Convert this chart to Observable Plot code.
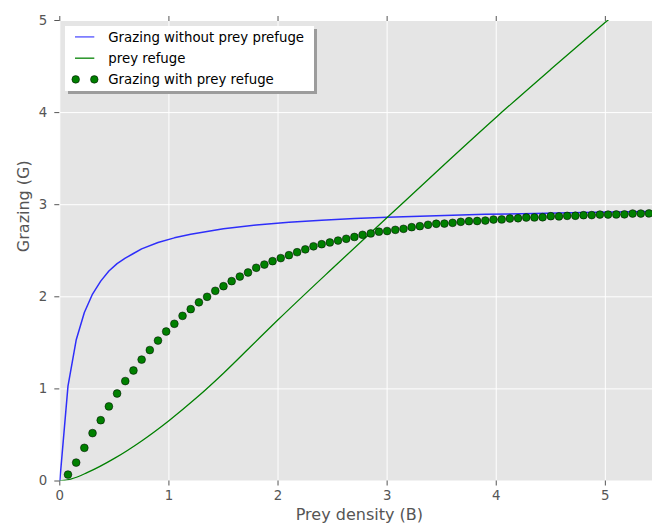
<!DOCTYPE html>
<html>
<head>
<meta charset="utf-8">
<script src="https://cdn.jsdelivr.net/npm/d3@7"></script>
<script src="https://cdn.jsdelivr.net/npm/@observablehq/plot@0.6"></script>
<style>
  html, body { margin: 0; padding: 0; background: #ffffff; overflow: hidden; }
  #wrap { position: relative; width: 652px; height: 529px; }
  #legend { position: absolute; left: 65px; top: 26px; width: 249px; height: 65px;
            background: #ffffff; box-shadow: 3px 3px 0 #9c9c9c; }
  #legend svg { display: block; }
</style>
</head>
<body>
<div id="wrap"></div>
<script>
// ---- data ----
const xTicks = [0, 1, 2, 3, 4, 5];
const yTicks = [0, 1, 2, 3, 4, 5];

const blueB = [0, 0.075, 0.15, 0.225, 0.3, 0.375, 0.45, 0.525, 0.6, 0.675, 0.75, 0.9, 1.05, 1.2, 1.35, 1.5, 1.8, 2.1, 2.4, 2.7, 3.0, 3.45, 3.9, 4.35, 4.8, 5.4];
const blueG = [0, 1.03, 1.53, 1.83, 2.03, 2.17, 2.28, 2.36, 2.42, 2.47, 2.52, 2.59, 2.64, 2.68, 2.71, 2.74, 2.78, 2.81, 2.83, 2.85, 2.865, 2.88, 2.895, 2.905, 2.915, 2.925];

const refugeB = [0, 0.1, 0.25, 0.5, 0.75, 1.0, 1.25, 1.5, 1.75, 2.0, 2.5, 3.0, 3.5, 4.0, 4.5, 5.0, 5.4];
const refugeG = [0, 0.02, 0.09, 0.245, 0.435, 0.655, 0.9, 1.17, 1.46, 1.75, 2.31, 2.86, 3.41, 3.95, 4.47, 4.98, 5.38];

const dotB = [0.075,0.15,0.225,0.3,0.375,0.45,0.525,0.6,0.675,0.75,0.825,0.9,0.975,1.05,1.125,1.2,1.275,1.35,1.425,1.5,1.575,1.65,1.725,1.8,1.875,1.95,2.025,2.1,2.175,2.25,2.325,2.4,2.475,2.55,2.625,2.7,2.775,2.85,2.925,3.0,3.075,3.15,3.225,3.3,3.375,3.45,3.525,3.6,3.675,3.75,3.825,3.9,3.975,4.05,4.125,4.2,4.275,4.35,4.425,4.5,4.575,4.65,4.725,4.8,4.875,4.95,5.025,5.1,5.175,5.25,5.325,5.4];
const dotG = [0.07,0.20,0.36,0.52,0.66,0.81,0.95,1.085,1.20,1.318,1.422,1.525,1.623,1.707,1.793,1.866,1.94,2.0,2.065,2.115,2.17,2.22,2.264,2.315,2.35,2.387,2.42,2.452,2.484,2.515,2.548,2.571,2.59,2.611,2.63,2.65,2.673,2.688,2.707,2.714,2.727,2.738,2.756,2.767,2.782,2.793,2.795,2.803,2.814,2.821,2.823,2.828,2.839,2.840,2.85,2.853,2.861,2.862,2.864,2.875,2.873,2.879,2.880,2.886,2.887,2.893,2.893,2.894,2.895,2.904,2.904,2.905];

const seriesNames = ["Grazing without prey prefuge", "prey refuge", "Grazing with prey refuge"];
const xLabel = "Prey density (B)";
const yLabel = "Grazing (G)";

// ---- tables ----
const blueData = blueB.map((b, i) => ({B: b, G: blueG[i]}));
const refugeData = refugeB.map((b, i) => ({B: b, G: refugeG[i]}));
const dotData = dotB.map((b, i) => ({B: b, G: dotG[i]}));

const axisColor = "#555555";

const chart = Plot.plot({
  width: 652,
  height: 529,
  marginLeft: 59.3,
  marginRight: 0,
  marginTop: 20,
  marginBottom: 48.5,
  style: {fontFamily: "'DejaVu Sans', sans-serif", fontSize: "13.33px", color: axisColor, background: "#ffffff"},
  x: {domain: [0, 5.5], range: [59.3, 659.4]},
  y: {domain: [0, 5], range: [480.5, 20]},
  marks: [
    Plot.frame({fill: "#e5e5e5", stroke: "none"}),
    Plot.gridX(xTicks, {stroke: "#ffffff", strokeOpacity: 1, strokeWidth: 1}),
    Plot.gridY(yTicks, {stroke: "#ffffff", strokeOpacity: 1, strokeWidth: 1}),
    Plot.axisX(xTicks, {anchor: "bottom", tickSize: 5, tickPadding: 5, label: null, tickFormat: d => String(d)}),
    Plot.axisX(xTicks, {anchor: "top", tickSize: 5, label: null, tickFormat: () => ""}),
    Plot.axisY(yTicks, {anchor: "left", tickSize: 5, tickPadding: 7.6, label: null, tickFormat: d => String(d)}),
    Plot.line(blueData, {x: "B", y: "G", stroke: "#0000ff", strokeOpacity: 0.8, strokeWidth: 1.5, clip: true}),
    Plot.line(refugeData, {x: "B", y: "G", stroke: "#008000", strokeWidth: 1.3, curve: "monotone-x", clip: true}),
    Plot.dot(dotData, {x: "B", y: "G", r: 3.9, fill: "#008000", stroke: "#000000", strokeWidth: 0.6, strokeOpacity: 0.85, clip: true}),
    Plot.text([xLabel], {frameAnchor: "bottom", dx: 3.2, dy: 38.9, fontSize: 16, fill: axisColor, text: d => d}),
    Plot.text([yLabel], {frameAnchor: "left", rotate: -90, dx: -36.1, dy: 1.4, fontSize: 16, fill: axisColor, text: d => d})
  ]
});

const wrap = document.getElementById("wrap");
wrap.appendChild(chart);

// ---- legend (real text) ----
const legend = document.createElement("div");
legend.id = "legend";
const ns = "http://www.w3.org/2000/svg";
const svg = document.createElementNS(ns, "svg");
svg.setAttribute("width", "249");
svg.setAttribute("height", "65");
svg.setAttribute("font-family", "'DejaVu Sans', sans-serif");
svg.setAttribute("font-size", "13.33");
const rowsCenter = [10.9, 32.2, 53.4];
const kinds = ["blue", "green", "dots"];
kinds.forEach((k, i) => {
  const cy = rowsCenter[i];
  if (k === "dots") {
    [10.7, 29.3].forEach(cx => {
      const c = document.createElementNS(ns, "circle");
      c.setAttribute("cx", cx); c.setAttribute("cy", cy); c.setAttribute("r", 3.8);
      c.setAttribute("fill", "#008000"); c.setAttribute("stroke", "#000"); c.setAttribute("stroke-width", 0.6);
      c.setAttribute("stroke-opacity", 0.85);
      svg.appendChild(c);
    });
  } else {
    const l = document.createElementNS(ns, "line");
    l.setAttribute("x1", 10); l.setAttribute("x2", 29.3);
    l.setAttribute("y1", cy); l.setAttribute("y2", cy);
    l.setAttribute("stroke", k === "blue" ? "#0000ff" : "#008000");
    l.setAttribute("stroke-opacity", k === "blue" ? 0.6 : 0.85);
    l.setAttribute("stroke-width", 1.5);
    svg.appendChild(l);
  }
  const t = document.createElementNS(ns, "text");
  t.setAttribute("x", 43.3);
  t.setAttribute("y", cy + 4.85);
  t.setAttribute("fill", "#000000");
  t.textContent = seriesNames[i];
  svg.appendChild(t);
});
legend.appendChild(svg);
wrap.appendChild(legend);
</script>
</body>
</html>
